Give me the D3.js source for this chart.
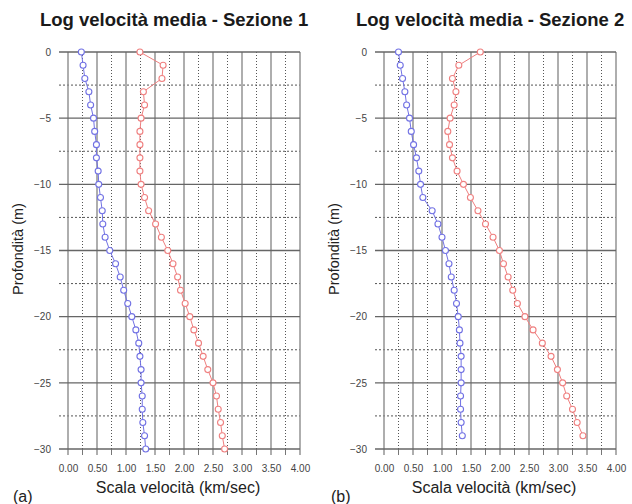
<!DOCTYPE html>
<html><head><meta charset="utf-8">
<script src="https://cdn.jsdelivr.net/npm/d3@7"></script>
<style>
body{margin:0;background:#fff;}
svg{display:block;font-family:"Liberation Sans",Arial,sans-serif;}
</style></head>
<body><svg id="c" width="632" height="504"></svg>
<script>
const depths1 = d3.range(0, -31, -1);
const depths2 = d3.range(0, -30, -1);
const blue1 = [0.23,0.26,0.29,0.36,0.39,0.44,0.46,0.49,0.49,0.52,0.53,0.56,0.59,0.60,0.64,0.72,0.82,0.90,0.96,1.03,1.10,1.17,1.22,1.24,1.26,1.26,1.28,1.28,1.29,1.32,1.34];
const red1 = [1.24,1.64,1.62,1.30,1.32,1.26,1.24,1.24,1.24,1.24,1.26,1.32,1.39,1.51,1.61,1.72,1.81,1.89,1.94,2.02,2.10,2.17,2.25,2.33,2.41,2.50,2.56,2.59,2.63,2.66,2.70];
const blue2 = [0.25,0.28,0.32,0.36,0.39,0.44,0.47,0.51,0.56,0.60,0.63,0.67,0.83,0.93,1.00,1.06,1.12,1.16,1.21,1.25,1.28,1.30,1.31,1.33,1.33,1.33,1.32,1.32,1.33,1.35];
const red2 = [1.66,1.29,1.18,1.24,1.21,1.14,1.10,1.13,1.18,1.26,1.37,1.49,1.62,1.75,1.88,1.99,2.06,2.14,2.22,2.30,2.43,2.57,2.73,2.88,2.99,3.08,3.15,3.25,3.33,3.43];
const xTicks = [0,0.5,1,1.5,2,2.5,3,3.5,4];
const xMinor = [0.25,0.75,1.25,1.75,2.25,2.75,3.25,3.75];
const yTicks = [0,-5,-10,-15,-20,-25,-30];
const yMinor = [-2.5,-7.5,-12.5,-17.5,-22.5,-27.5];
const titles = ["Log velocità media - Sezione 1","Log velocità media - Sezione 2"];
const panelLabels = ["(a)","(b)"];
const xTitle = "Scala velocità (km/sec)";
const yTitle = "Profondità (m)";

const BLUE = "#7272e4", RED = "#ef8080";
const svg = d3.select("#c");
const x = d3.scaleLinear().domain([0,4]).range([68,300]);
const y = d3.scaleLinear().domain([-30,0]).range([449,52]);

const panels = [
  {dx:0, title:titles[0], lab:panelLabels[0], series:[{d:depths1,v:blue1,c:BLUE},{d:depths1,v:red1,c:RED}], tx:40, lx:13},
  {dx:316, title:titles[1], lab:panelLabels[1], series:[{d:depths2,v:blue2,c:BLUE},{d:depths2,v:red2,c:RED}], tx:40, lx:15}
];

panels.forEach(p => {
  const g = svg.append("g").attr("transform", `translate(${p.dx},0)`);
  // minor grid
  g.selectAll(".vmin").data(xMinor).join("line")
    .attr("x1", d=>x(d)).attr("x2", d=>x(d)).attr("y1", y(0)).attr("y2", y(-30))
    .attr("stroke","#555").attr("stroke-width",1).attr("stroke-dasharray","1,2");
  g.selectAll(".vmint").data(xMinor).join("line")
    .attr("x1", d=>x(d)).attr("x2", d=>x(d)).attr("y1", y(-30)).attr("y2", y(-30)+6)
    .attr("stroke","#777").attr("stroke-width",1);
  g.selectAll(".hmin").data(yMinor).join("line")
    .attr("x1", 59).attr("x2", x(4)).attr("y1", d=>y(d)).attr("y2", d=>y(d))
    .attr("stroke","#555").attr("stroke-width",1).attr("stroke-dasharray","2,2");
  // major grid
  g.selectAll(".vmaj").data(xTicks).join("line")
    .attr("x1", d=>x(d)).attr("x2", d=>x(d)).attr("y1", y(0)).attr("y2", y(-30)+6)
    .attr("stroke","#8c8c8c").attr("stroke-width",1.4);
  g.selectAll(".hmaj").data(yTicks).join("line")
    .attr("x1", 59).attr("x2", x(4)).attr("y1", d=>y(d)).attr("y2", d=>y(d))
    .attr("stroke","#666").attr("stroke-width",1.3);

  // axes (labels only)
  const ya = g.append("g").attr("transform", `translate(${x(0)},0)`)
    .call(d3.axisLeft(y).tickValues(yTicks).tickSize(0).tickPadding(17).tickFormat(d3.format("d")));
  ya.select(".domain").remove();
  ya.selectAll("text").attr("font-size",10).attr("fill","#444").attr("font-family","Liberation Sans, Arial, sans-serif");
  const xa = g.append("g").attr("transform", `translate(0,${y(-30)})`)
    .call(d3.axisBottom(x).tickValues(xTicks).tickSize(0).tickPadding(16).tickFormat(d3.format(".2f")));
  xa.select(".domain").remove();
  xa.selectAll("text").attr("font-size",10).attr("fill","#444").attr("font-family","Liberation Sans, Arial, sans-serif");

  // series
  const line = d3.line().x(d=>x(d[1])).y(d=>y(d[0]));
  p.series.forEach(s => {
    const pts = s.d.map((d,i)=>[d, s.v[i]]);
    g.append("path").attr("d", line(pts)).attr("fill","none").attr("stroke", s.c).attr("stroke-width",1);
    g.selectAll(null).data(pts).join("circle")
      .attr("cx", d=>x(d[1])).attr("cy", d=>y(d[0])).attr("r",3)
      .attr("fill","#fff").attr("stroke", s.c).attr("stroke-width",1.1);
  });

  // texts
  g.append("text").attr("x", p.tx).attr("y", 26).attr("font-size",18.5).attr("font-weight","bold")
    .attr("fill","#1a1a1a").text(p.title);
  g.append("text").attr("x", 178).attr("y", 493).attr("text-anchor","middle").attr("font-size",16)
    .attr("fill","#222").text(xTitle);
  g.append("text").attr("transform","translate(23,249) rotate(-90)").attr("text-anchor","middle")
    .attr("font-size",14.5).attr("fill","#222").text(yTitle);
  g.append("text").attr("x", p.lx).attr("y", 502).attr("font-size",16).attr("fill","#222").text(p.lab);
});
</script></body></html>
